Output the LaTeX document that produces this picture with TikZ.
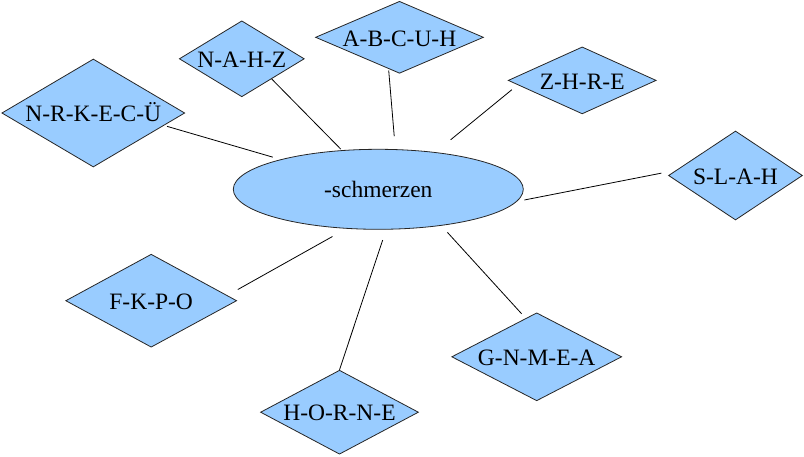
\documentclass[tikz,border=0pt]{standalone}
\usepackage{fontspec}
\setmainfont{Liberation Serif}
\usepackage{tikz}
\usetikzlibrary{shapes.geometric}
\definecolor{skyfill}{HTML}{99CCFF}
\colorlet{rimgray}{black!85}

\begin{document}
\begin{tikzpicture}[x=1pt,y=-1pt,font=\fontsize{23.5}{28}\selectfont,
  rhomb/.style={diamond,draw=rimgray,fill=skyfill,line width=.8pt,inner sep=0pt,text height=17.5pt,text depth=0pt},
  oval/.style={ellipse,draw=rimgray,fill=skyfill,line width=.8pt,inner sep=0pt},
  link/.style={draw=black,line width=.8pt}]
\useasboundingbox (0,0) rectangle (804,456);
\node[oval,minimum width=290pt,minimum height=80pt] (schm) at (378.3,189.3) {-schmerzen};
\node[rhomb,minimum width=183pt,minimum height=108pt,aspect=1.69] (nrkecu) at (93.3,113) {N-R-K-E-C-Ü};
\node[rhomb,minimum width=125pt,minimum height=76pt,aspect=1.64] (nahz) at (241.8,58.8) {N-A-H-Z};
\node[rhomb,minimum width=168pt,minimum height=72pt,aspect=2.33] (abcuh) at (399.5,37.3) {A-B-C-U-H};
\node[rhomb,minimum width=148pt,minimum height=67pt,aspect=2.2] (zhre) at (582.2,80.4) {Z-H-R-E};
\node[rhomb,minimum width=134pt,minimum height=89pt,aspect=1.51] (slah) at (735.5,175.5) {S-L-A-H};
\node[rhomb,minimum width=171pt,minimum height=93pt,aspect=1.84] (fkpo) at (151.2,300.7) {F-K-P-O};
\node[rhomb,minimum width=170pt,minimum height=88pt,aspect=1.93] (gnmea) at (536.7,356.8) {G-N-M-E-A};
\node[rhomb,minimum width=158pt,minimum height=84pt,aspect=1.88] (horne) at (339.5,412.2) {H-O-R-N-E};
% connectors
\draw[link,shorten <=3pt,shorten >=8pt] (nrkecu.-10.7) -- (schm.163.1);
\draw[link,shorten >=1.5pt] (nahz.-34) -- (schm.133.8);
\draw[link,shorten <=1.5pt,shorten >=13pt] (abcuh.251.1) -- (schm.67.2);
\draw[link,shorten <=7.6pt,shorten >=19.6pt] (zhre.184.3) -- (schm.33.9);
\draw[link,shorten <=14.8pt,shorten >=7.5pt] (slah.175) -- (schm.-5.3);
\draw[link,shorten <=12pt,shorten >=16pt] (fkpo.4.9) -- (schm.231.2);
\draw[link,shorten >=11pt] (horne.90) -- (schm.-79.9);
\draw[link,shorten <=6pt,shorten >=9pt] (gnmea.106.1) -- (schm.-30.4);
\end{tikzpicture}
\end{document}
